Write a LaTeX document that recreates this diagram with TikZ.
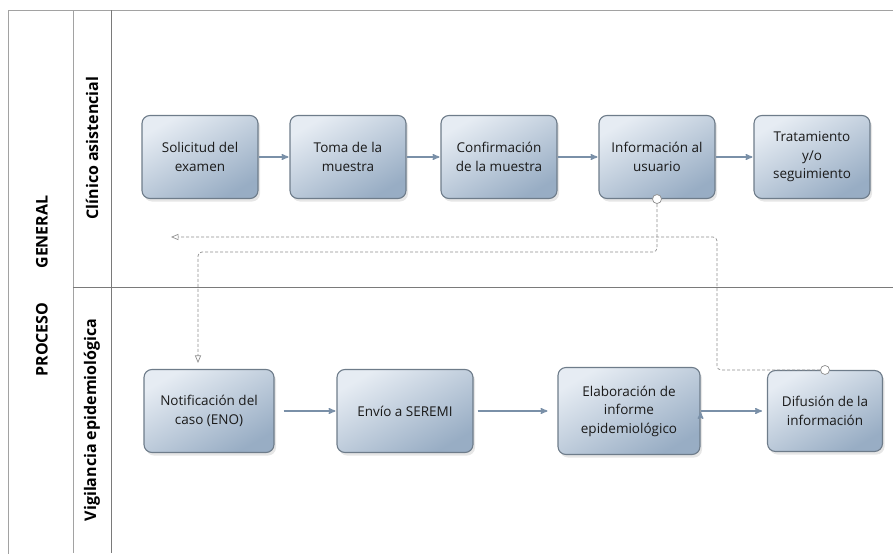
\documentclass[tikz,border=0pt]{standalone}
\usepackage{fontspec}
\setmainfont{Open Sans}
\usetikzlibrary{arrows,shadows,positioning}

\definecolor{boxlight}{HTML}{E6ECF3}
\definecolor{boxdark}{HTML}{98ADC4}
\definecolor{boxline}{HTML}{6E7C8A}
\definecolor{flowline}{HTML}{7A90A8}
\definecolor{msgline}{HTML}{8E8E8E}
\definecolor{laneline}{HTML}{7A7A7A}
\definecolor{boxtext}{HTML}{1A1A1A}

\begin{document}
\begin{tikzpicture}[x=1pt,y=-1pt,>=stealth',shorten >=1pt,node distance=150pt,
                    semithick]

  \tikzstyle{task}=[rectangle,rounded corners=8pt,draw=boxline,line width=1.1pt,
                    top color=boxlight,bottom color=boxdark,shading angle=30,
                    drop shadow={opacity=0.2,shadow xshift=2pt,shadow yshift=-3pt},
                    minimum width=116pt,minimum height=83pt,align=center,
                    text=boxtext,font=\fontsize{13.5}{18.5}\selectfont]
  \tikzstyle{flow}=[->,draw=flowline,line width=1.4pt]
  \tikzstyle{msg}=[-open triangle 45,draw=msgline,densely dashed,line width=0.7pt]
  \tikzstyle{lane}=[rotate=90,font=\bfseries\fontsize{16}{19}\selectfont]

  \useasboundingbox (0,0) rectangle (894,554);

  % pool and lanes
  \draw[laneline!70] (8,554) -- (8,10) -- (894,10);
  \draw[laneline!70] (73,10) -- (73,554);
  \draw[laneline] (111,10) -- (111,554);
  \draw[laneline] (73,287) -- (894,287);

  \node[lane] (pool) at (42,286) {PROCESO\hspace{34pt}GENERAL};
  \node[lane] (clin) at (92,148) {Clínico asistencial};
  \node[lane] (vigi) at (92,420) {Vigilancia epidemiológica};

  % clinico asistencial
  \node[task]        (sol)  at (200,157)                     {Solicitud del\\examen};
  \node[task]        (toma) [right of=sol,node distance=148pt]  {Toma de la\\muestra};
  \node[task]        (conf) [right of=toma,node distance=151pt] {Confirmación\\de la muestra};
  \node[task]        (info) [right of=conf,node distance=158pt] {Información al\\usuario};
  \node[task]        (trat) [right of=info,node distance=155pt] {Tratamiento\\y/o\\seguimiento};

  % vigilancia epidemiologica
  \node[task,minimum width=130pt] (noti) at (209,411)       {Notificación del\\caso (ENO)};
  \node[task,minimum width=136pt] (envio) [right of=noti,node distance=196pt] {Envío a SEREMI};
  \node[task,minimum width=142pt,minimum height=87pt] (elab) [right of=envio,node distance=224pt]
                                                          {Elaboración de\\informe\\epidemiológico};
  \node[task,minimum width=115pt,minimum height=81pt] (difu) [right of=elab,node distance=196pt]
                                                          {Difusión de la\\información};

  \path[flow]
  (sol.east)  edge (toma.west)
  (toma.east) edge (conf.west)
  (conf.east) edge (info.west)
  (info.east) edge (trat.west)
  (noti.east) edge [shorten <=9pt] (envio.west)
  (envio.east) edge [shorten <=4pt,shorten >=10pt] (elab.west)
  (elab.east) edge [shorten >=5pt] (difu.west)
  ;

  % mensajes
  \coordinate (bend) at (657,252);
  \coordinate (turn) at (717,237);
  \coordinate (back) at (170,237);
  \draw[msg,rounded corners=4pt,shorten >=6pt] (info.south) -- (bend) -| ([xshift=-11pt]noti.north);
  \draw[msg,rounded corners=4pt] (difu.north) -| (turn) -- (back);
  \draw[msgline,line width=0.7pt,fill=white] (info.south) circle (4.5pt) (difu.north) circle (4.5pt);
\end{tikzpicture}
\end{document}
